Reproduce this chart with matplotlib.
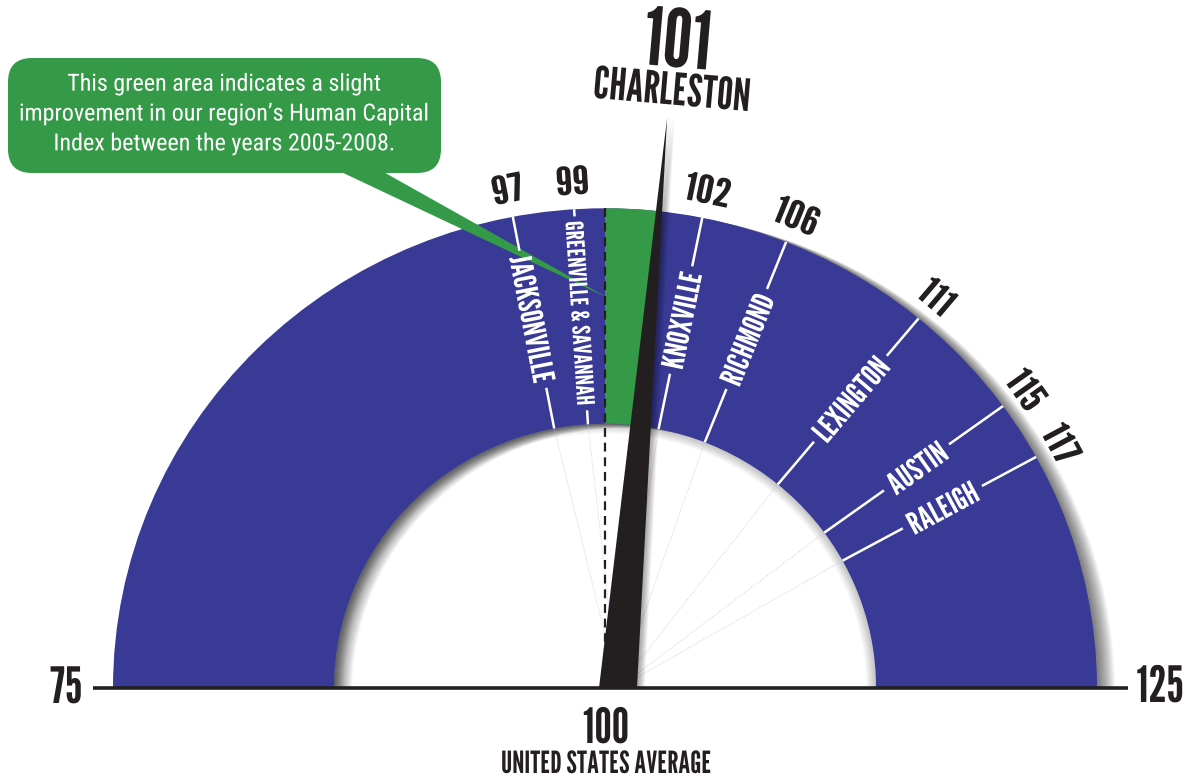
import numpy as np
import matplotlib
matplotlib.use("Agg")
import matplotlib.pyplot as plt
from matplotlib import font_manager as fm
from matplotlib.patches import Wedge, Polygon, FancyBboxPatch, Rectangle
from matplotlib.patheffects import AbstractPathEffect
from matplotlib.transforms import Affine2D

# ---------------- data ----------------
scale_min = 75
scale_max = 125
us_average = 100
us_label = "UNITED STATES AVERAGE"
region_city = "CHARLESTON"
region_value = 101
cities = ["JACKSONVILLE", "GREENVILLE & SAVANNAH", "KNOXVILLE", "RICHMOND",
          "LEXINGTON", "AUSTIN", "RALEIGH"]
city_values = [97, 99, 102, 106, 111, 115, 117]
callout_lines = ["This green area indicates a slight",
                 "improvement in our region\u2019s Human Capital",
                 "Index between the years 2005-2008."]

# ---------------- style ----------------
BLUE = "#383A96"
GREEN = "#349A48"
INK = "#231F20"
W, H = 1197, 780
CX, CY = 605, 688          # gauge centre (pixels)
SY = 0.975                 # slight vertical squash of the gauge
R_OUT, R_IN = 492, 271
R_LAB, R_NUM = 385, 522
MIN_NEEDLE_GAP = 6.6       # degrees kept free on each side of the needle

avail = {f.name for f in fm.fontManager.ttflist}


def pick(cands):
    for c in cands:
        if c in avail:
            return c
    return "DejaVu Sans"


GOTHIC = pick(["League Gothic", "Oswald", "Roboto Condensed", "Liberation Sans Narrow",
               "Roboto", "Liberation Sans"])
BODY = pick(["Roboto Condensed", "Liberation Sans Narrow", "Liberation Sans", "Roboto"])


class Squeeze(AbstractPathEffect):
    """Draw the glyphs horizontally condensed about each line's centre."""

    def __init__(self, sx):
        super().__init__()
        self.sx = sx

    def draw_path(self, renderer, gc, tpath, affine, rgbFace=None):
        ext = tpath.get_extents()
        cx = 0.5 * (ext.x0 + ext.x1)
        pre = Affine2D().translate(-cx, 0).scale(self.sx, 1).translate(cx, 0)
        renderer.draw_path(gc, tpath, pre + affine, rgbFace)


fig = plt.figure(figsize=(W / 100, H / 100), dpi=100)
ax = fig.add_axes([0, 0, 1, 1])
ax.set_xlim(-CX, W - CX)
ax.set_ylim((CY - H) / SY, CY / SY)
ax.axis("off")
renderer = fig.canvas.get_renderer()


def P(px, py):
    return (px - CX, (CY - py) / SY)


def theta(v):
    return 180.0 * (scale_max - v) / (scale_max - scale_min)


def pol(r, deg):
    a = np.radians(deg)
    return np.array([r * np.cos(a), r * np.sin(a)])


def scr(deg):
    a = np.radians(deg)
    return np.degrees(np.arctan2(SY * np.sin(a), np.cos(a)))


def adv(s, size, family, weight):
    fp = fm.FontProperties(family=family, weight=weight, size=size)
    return renderer.get_text_width_height_descent(s, fp, ismath=False)[0]


SX_G = 157.0 / adv(region_city, 32, GOTHIC, 900)
SX_B = 410.0 / adv(callout_lines[1], 17, BODY, "normal")


def gtext(xy, s, size, sx, color=INK, rot=0, ha="center", va="center_baseline",
          weight=900, family=None, z=10, **kw):
    t = ax.text(xy[0], xy[1], s, fontsize=size, color=color, rotation=rot,
                rotation_mode="anchor", ha=ha, va=va, fontweight=weight,
                family=family or GOTHIC, zorder=z, **kw)
    t.set_path_effects([Squeeze(sx)])
    return t


# ---------------- drop shadow of the band (cast to the right) ----------------
clip = Rectangle((-CX, 0), W, CY / SY + 20, transform=ax.transData)
for j in range(1, 19):
    w = Wedge((j, -0.25 * j), R_OUT, 0, 180, width=R_OUT - R_IN,
              facecolor="black", alpha=0.034, lw=0, zorder=1)
    ax.add_patch(w)
    w.set_clip_path(clip)
# soft inner glow around the hole
for s in range(1, 11):
    ax.add_patch(Wedge((0, 0), R_IN, 0, 180, width=s, facecolor="black",
                       alpha=0.022, lw=0, zorder=1.2))

# ---------------- band ----------------
ax.add_patch(Wedge((0, 0), R_OUT, 0, 180, width=R_OUT - R_IN, facecolor=BLUE,
                   lw=0, zorder=2))

# ---------------- needle geometry ----------------
NEEDLE_DX, NEEDLE_TILT, NEEDLE_LEN, NEEDLE_HALF = 13, -1.2, 587, 19
na = theta(region_value) + NEEDLE_TILT
pivot = np.array([NEEDLE_DX, 0.0])
tip = pivot + pol(NEEDLE_LEN, na)
ts = np.linspace(0, 1, 4001)
line_pts = pivot[None, :] + ts[:, None] * (tip - pivot)[None, :]
k = np.argmin(np.abs(np.hypot(line_pts[:, 0], line_pts[:, 1]) - R_OUT))
green_edge = np.degrees(np.arctan2(line_pts[k, 1], line_pts[k, 0]))

# green improvement area
ax.add_patch(Wedge((0, 0), R_OUT, green_edge, theta(us_average), width=R_OUT - R_IN,
                   facecolor=GREEN, lw=0, zorder=3))

# callout tail
ax.add_patch(Polygon([P(337, 170), P(380, 170), P(608, 298)], closed=True,
                     facecolor=GREEN, lw=0, zorder=3.5))

# dashed US-average line
pa = pol(R_OUT, theta(us_average))
ax.plot([pa[0], 0], [pa[1], 0], color=INK, lw=1.6, ls=(0, (4, 2.6)), zorder=4.5)


def label_angle(v):
    th = theta(v)
    if abs(th - na) < MIN_NEEDLE_GAP:
        th = na - MIN_NEEDLE_GAP if th < na else na + MIN_NEEDLE_GAP
    return th


# ---------------- city ticks, labels and numbers ----------------
for name, v in zip(cities, city_values):
    th = label_angle(v)
    size = 17.5 if len(name) > 14 else 22
    sx = SX_G * 1.08
    half = adv(name, size, GOTHIC, 900) * sx / 2 + 7
    for r0, r1 in [(R_OUT, R_LAB + half), (R_LAB - half, R_IN)]:
        a, b = pol(r0, th), pol(r1, th)
        ax.plot([a[0], b[0]], [a[1], b[1]], color="white", lw=1.8,
                solid_capstyle="butt", zorder=4)
    # faint construction line inside the hole
    p = pol(R_IN, th)
    ax.plot([p[0], NEEDLE_DX], [p[1], 0], color="#c4c4e4", lw=0.6, ls=":", zorder=1.5)
    rot = scr(th) if th < 90 else scr(th) - 180
    gtext(pol(R_LAB, th), name, size, sx, color="white", rot=rot, z=5)
    gtext(pol(R_NUM, th), str(v), 28, SX_G * 1.25, rot=scr(th) - 90, z=5)

# ---------------- needle ----------------
needle = [pivot + [-NEEDLE_HALF, 0], tip, pivot + [NEEDLE_HALF, 0]]
for j in range(7):
    sh = [(x + 1.5 + j, y) for x, y in needle]
    ax.add_patch(Polygon(sh, closed=True, facecolor="black", alpha=0.05, lw=0,
                         zorder=5.5))
ax.add_patch(Polygon(needle, closed=True, facecolor=INK, lw=0, zorder=6))

# baseline
ax.plot([93 - CX, 1128 - CX], [0, 0], color=INK, lw=2.6, solid_capstyle="butt", zorder=7)

# ---------------- scale labels ----------------
gtext(P(66, 703), str(scale_min), 36, SX_G, va="baseline")
gtext(P(1160, 702), str(scale_max), 36, SX_G, va="baseline")
gtext(P(606, 743), str(us_average), 35, SX_G, va="baseline")
gtext(P(606, 773), us_label, 22, SX_G, va="baseline")
gtext(P(678, 37), str(region_value), 58, SX_G, rot=scr(na) - 90)
gtext(P(672, 88), region_city, 32, SX_G, rot=scr(na) - 90)

# ---------------- callout bubble ----------------
ax.add_patch(FancyBboxPatch(P(8, 173), 433, 115 / SY,
                            boxstyle="round,pad=0,rounding_size=24",
                            mutation_aspect=1 / SY,
                            facecolor=GREEN, lw=0, zorder=8))
gtext(P(224, 114), "\n".join(callout_lines), 17, SX_B, color="white",
      va="center", weight="normal", family=BODY, z=9, linespacing=1.38,
      multialignment="center")

fig.savefig("out.png", dpi=100, facecolor="white")
